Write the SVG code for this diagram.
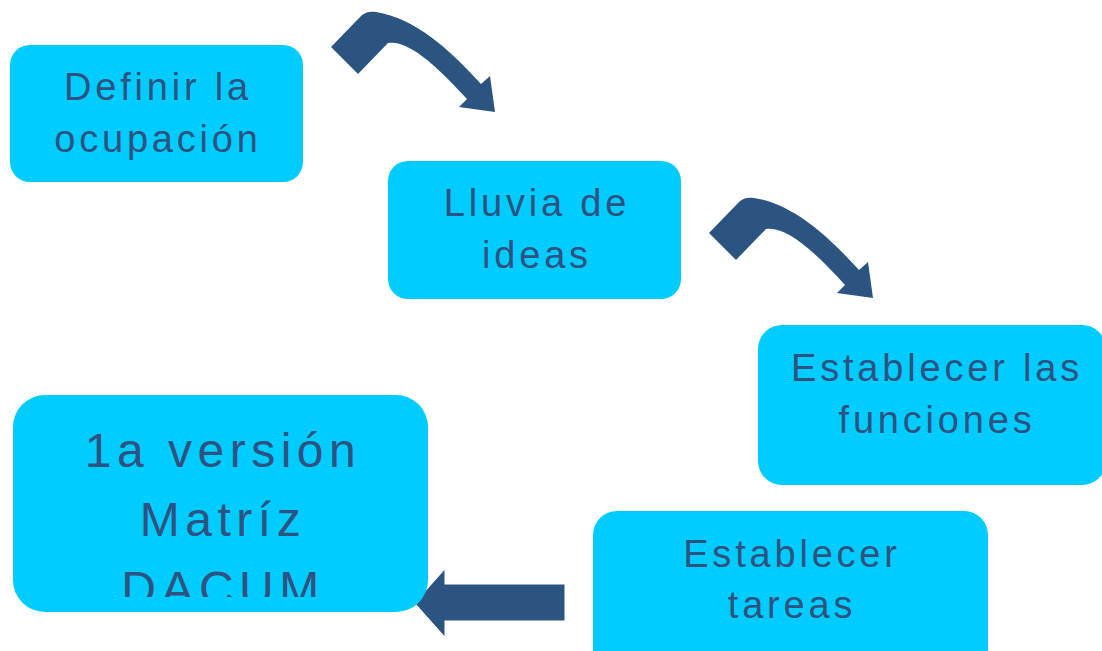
<svg xmlns="http://www.w3.org/2000/svg" width="1102" height="651" viewBox="0 0 1102 651">
<style>
.box{fill:#00CCFF;}
.t{font-family:"Liberation Sans",Arial,sans-serif;fill:#2E5381;text-anchor:middle;}
.m{font-size:38px;letter-spacing:3.8px;}
.b{font-size:48px;letter-spacing:5.5px;}
.arr{fill:#2C5481;}
</style>
<defs>
<clipPath id="clip5"><rect x="13" y="395" width="415" height="202"/></clipPath>
<path id="curved" d="M331,47 L358,74 L388,43 C405,40 430,58 467,99 L459,107 L495,112 L490,76 L481,84 C450,50 415,18 376,12 C370,11 366,12 362,15 Z"/>
</defs>
<rect width="1102" height="651" fill="#FFFFFF"/>
<g id="connectors">
<use href="#curved" class="arr"/>
<use href="#curved" class="arr" transform="translate(378,186)"/>
<path class="arr" d="M566,583 L446,583 L446,566 L413,603 L446,640 L446,622 L566,622 Z" stroke="#FFFFFF" stroke-width="3" stroke-linejoin="miter"/>
</g>
<g id="node1">
<rect class="box" x="10" y="45" width="293" height="137" rx="20"/>
<text class="t m" x="158" y="100">Definir la</text>
<text class="t m" x="158" y="152">ocupación</text>
</g>
<g id="node2">
<rect class="box" x="388" y="161" width="293" height="138" rx="20"/>
<text class="t m" x="537" y="216">Lluvia de</text>
<text class="t m" x="537" y="268">ideas</text>
</g>
<g id="node3">
<rect class="box" x="758" y="325" width="348" height="160" rx="24"/>
<text class="t m" x="937" y="381">Establecer las</text>
<text class="t m" x="937" y="433">funciones</text>
</g>
<g id="node4">
<rect class="box" x="593" y="511" width="395" height="170" rx="24"/>
<text class="t m" x="792" y="567">Establecer</text>
<text class="t m" x="792" y="618">tareas</text>
</g>
<g id="node5">
<rect class="box" x="13" y="395" width="415" height="217" rx="32"/>
<g clip-path="url(#clip5)">
<text class="t b" x="223" y="467">1a versión</text>
<text class="t b" x="223" y="536">Matríz</text>
<text class="t b" x="223" y="605">DACUM</text>
</g>
</g>
</svg>
